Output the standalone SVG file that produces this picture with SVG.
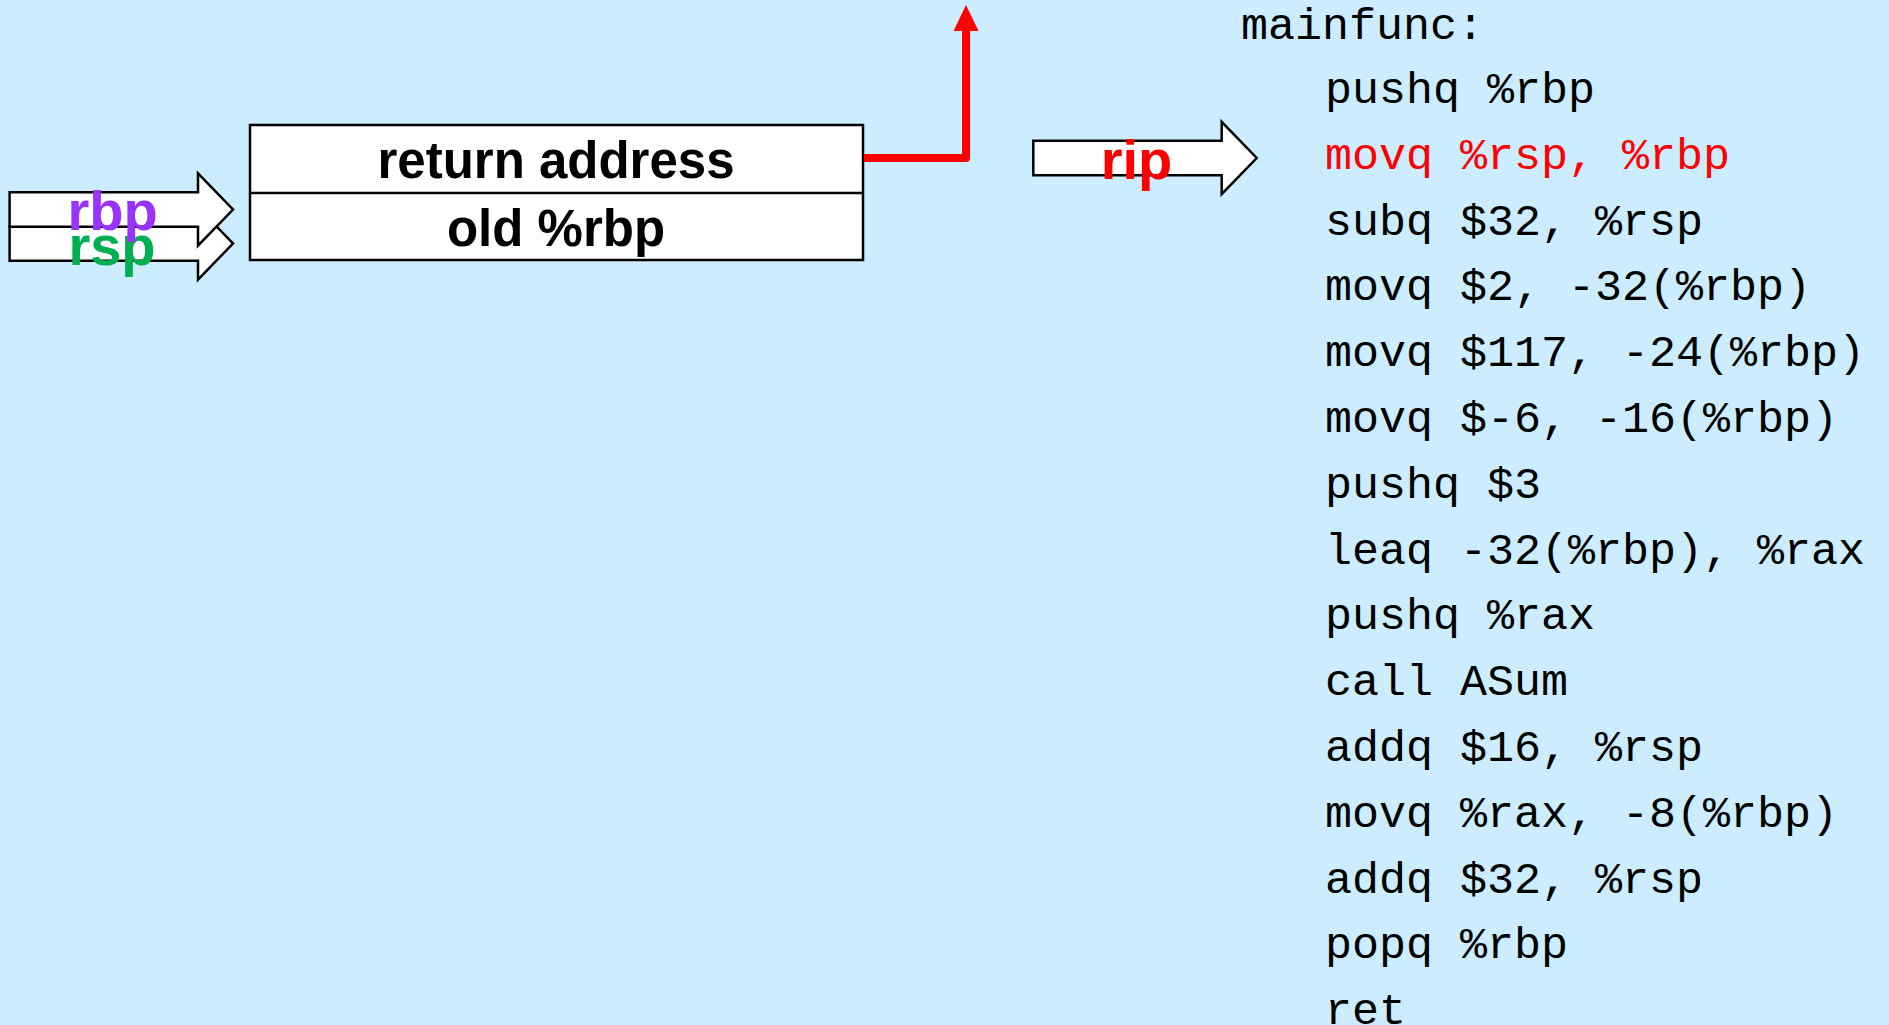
<svg xmlns="http://www.w3.org/2000/svg" width="1889" height="1025" viewBox="0 0 1889 1025">
  <style>
    .bg { fill: #CCECFF; }
    .cell { fill: #FFFFFF; stroke: #000000; stroke-width: 2.5; }
    .ptr { fill: #FFFFFF; stroke: #000000; stroke-width: 2.5; stroke-linejoin: miter; }
    .lbl { font-family: "Liberation Sans", Arial, sans-serif; font-weight: bold; text-anchor: middle; }
    .cell-text { font-size: 51px; fill: #000000; }
    .reg { font-size: 56px; }
    .code { font-family: "Liberation Mono", "Courier New", monospace; font-size: 45px; fill: #000000; }
    .hot { fill: #FF0000; }
    .link { fill: none; stroke: #FF0000; stroke-width: 8; stroke-linejoin: round; }
  </style>
  <defs>
    <!-- block arrow used for register pointers -->
    <path id="blockArrow" d="M0,-17.2 H188.4 V-36.2 L223.4,0 L188.4,36.2 V17.2 H0 Z"/>
    <marker id="redHead" markerUnits="userSpaceOnUse" markerWidth="26" markerHeight="26" viewBox="0 0 26 26" refX="1" refY="12.5" orient="auto">
      <path d="M0,0 L26,12.5 L0,25 Z" fill="#FF0000"/>
    </marker>
  </defs>

  <rect class="bg" x="0" y="0" width="1889" height="1025"/>

  <!-- stack frame -->
  <g id="stack">
    <rect class="cell" x="250" y="125" width="613" height="135"/>
    <line x1="250" y1="193" x2="863" y2="193" stroke="#000000" stroke-width="2.5"/>
    <text class="lbl cell-text" x="556" y="178">return address</text>
    <text class="lbl cell-text" x="556" y="246">old %rbp</text>
  </g>

  <!-- rsp pointer (drawn underneath rbp) -->
  <g id="rsp-pointer">
    <use href="#blockArrow" class="ptr" transform="translate(9.6,243.5)"/>
  </g>

  <!-- rbp pointer -->
  <g id="rbp-pointer">
    <use href="#blockArrow" class="ptr" transform="translate(9.6,209.5)"/>
  </g>
  <text class="lbl reg" x="112" y="265" fill="#00B050">rsp</text>
  <text class="lbl reg" x="112.5" y="230" fill="#9933FF">rbp</text>

  <!-- instruction pointer -->
  <g id="rip-pointer">
    <use href="#blockArrow" class="ptr" transform="translate(1033.3,158)"/>
    <text class="lbl reg" x="1136.5" y="179" fill="#FF0000">rip</text>
  </g>

  <!-- connectors -->
  <g id="connectors">
    <path class="link" d="M864,158 H966 V30" marker-end="url(#redHead)"/>
  </g>

  <!-- assembly listing -->
  <g id="code" class="code">
    <text x="1241" y="39">mainfunc:</text>
    <text x="1325" y="103">pushq %rbp</text>
    <text x="1325" y="168.8" class="hot">movq %rsp, %rbp</text>
    <text x="1325" y="234.6">subq $32, %rsp</text>
    <text x="1325" y="300.4">movq $2, -32(%rbp)</text>
    <text x="1325" y="366.2">movq $117, -24(%rbp)</text>
    <text x="1325" y="432">movq $-6, -16(%rbp)</text>
    <text x="1325" y="497.8">pushq $3</text>
    <text x="1325" y="563.6">leaq -32(%rbp), %rax</text>
    <text x="1325" y="629.4">pushq %rax</text>
    <text x="1325" y="695.2">call ASum</text>
    <text x="1325" y="761">addq $16, %rsp</text>
    <text x="1325" y="826.8">movq %rax, -8(%rbp)</text>
    <text x="1325" y="892.6">addq $32, %rsp</text>
    <text x="1325" y="958.4">popq %rbp</text>
    <text x="1325" y="1024.2">ret</text>
  </g>
</svg>
